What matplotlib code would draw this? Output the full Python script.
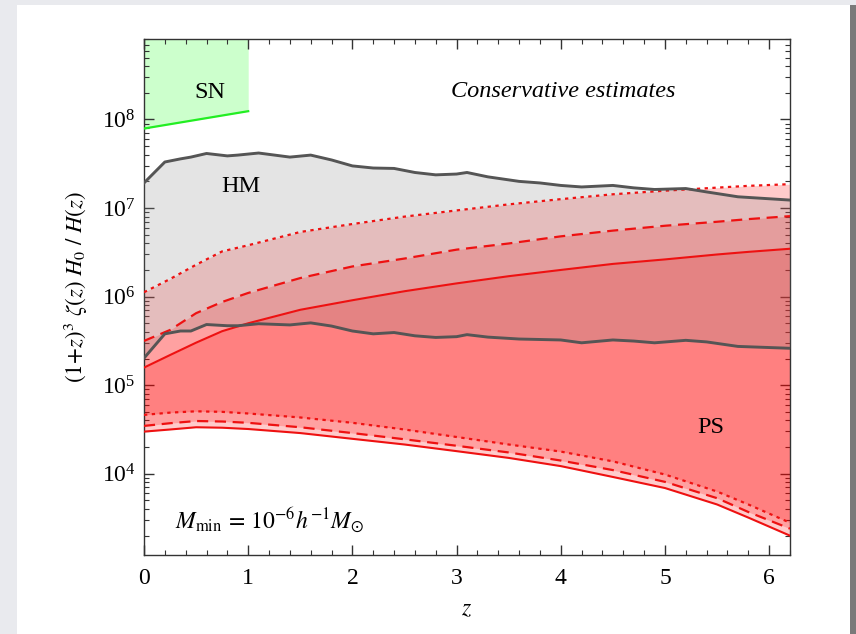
import numpy as np
import matplotlib
matplotlib.use("Agg")
import matplotlib.pyplot as plt
from matplotlib.patches import Rectangle
from matplotlib.ticker import LogLocator, MultipleLocator, NullFormatter

plt.rcParams['font.family'] = ['Liberation Serif', 'DejaVu Serif']
plt.rcParams['mathtext.fontset'] = 'stix'

# ---------------- data ----------------
# SN (supernova) bound
sn_z = [0.0, 1.0]
sn_low = [7.9e7, 1.24e8]

# HM (halo model) band
hm_z = [0, 0.2, 0.35, 0.45, 0.6, 0.8, 0.9, 1.1, 1.4, 1.6, 1.8, 2.0, 2.2, 2.4, 2.6,
        2.8, 3.0, 3.1, 3.3, 3.6, 3.8, 4.0, 4.2, 4.5, 4.7, 4.9, 5.2, 5.4, 5.7, 6.2]
hm_upper = [1.92e7, 3.31e7, 3.59e7, 3.76e7, 4.13e7, 3.88e7, 3.96e7, 4.18e7, 3.76e7,
            3.96e7, 3.49e7, 2.99e7, 2.83e7, 2.80e7, 2.52e7, 2.37e7, 2.42e7, 2.52e7,
            2.25e7, 2.0e7, 1.92e7, 1.80e7, 1.73e7, 1.80e7, 1.69e7, 1.62e7, 1.66e7,
            1.52e7, 1.34e7, 1.23e7]
hm_lower = [2.02e5, 3.80e5, 4.09e5, 4.09e5, 4.84e5, 4.69e5, 4.69e5, 4.94e5, 4.79e5,
            5.05e5, 4.65e5, 4.09e5, 3.80e5, 3.93e5, 3.61e5, 3.46e5, 3.53e5, 3.72e5,
            3.49e5, 3.32e5, 3.28e5, 3.24e5, 3.01e5, 3.24e5, 3.15e5, 3.01e5, 3.21e5,
            3.08e5, 2.74e5, 2.61e5]

# PS (Press-Schechter) bands: solid, dashed, dotted
ps_z = [0, 0.25, 0.5, 0.75, 1.0, 1.5, 2.0, 2.5, 3.0, 3.5, 4.0, 4.5, 5.0, 5.5, 5.8, 6.2]
ps_solid_up = [1.58e5, 2.19e5, 3.02e5, 4.07e5, 5.0e5, 7.1e5, 9.1e5, 1.15e6, 1.41e6,
               1.70e6, 2.0e6, 2.34e6, 2.63e6, 2.99e6, 3.2e6, 3.47e6]
ps_dashed_up = [3.16e5, 4.2e5, 6.5e5, 8.7e5, 1.1e6, 1.62e6, 2.19e6, 2.69e6, 3.39e6,
                3.98e6, 4.79e6, 5.56e6, 6.31e6, 7.0e6, 7.5e6, 8.1e6]
ps_dotted_up = [1.12e6, 1.58e6, 2.29e6, 3.24e6, 3.8e6, 5.37e6, 6.6e6, 8.0e6, 9.4e6,
                1.10e7, 1.26e7, 1.43e7, 1.57e7, 1.70e7, 1.78e7, 1.86e7]
ps_solid_low = [2.99e4, 3.16e4, 3.35e4, 3.31e4, 3.2e4, 2.88e4, 2.48e4, 2.14e4, 1.80e4,
                1.51e4, 1.22e4, 9.2e3, 6.9e3, 4.5e3, 3.2e3, 2.0e3]
ps_dashed_low = [3.47e4, 3.72e4, 3.94e4, 3.89e4, 3.76e4, 3.35e4, 2.88e4, 2.45e4, 2.07e4,
                 1.74e4, 1.41e4, 1.10e4, 8.1e3, 5.3e3, 3.7e3, 2.4e3]
ps_dotted_low = [4.62e4, 4.9e4, 5.07e4, 5.0e4, 4.79e4, 4.32e4, 3.76e4, 3.16e4, 2.6e4,
                 2.14e4, 1.78e4, 1.38e4, 9.8e3, 6.3e3, 4.5e3, 2.8e3]

x_ticks = [0, 1, 2, 3, 4, 5, 6]

# ---------------- figure ----------------
W, H = 856, 634
fig = plt.figure(figsize=(W / 100, H / 100), dpi=100)
fig.patch.set_facecolor('#e9eaee')
fig.patches.append(Rectangle((17 / W, 0), (850 - 17) / W, (H - 5) / H,
                             transform=fig.transFigure, facecolor='white',
                             edgecolor='none', zorder=-10))
fig.patches.append(Rectangle((850 / W, 0), 6 / W, (H - 5) / H,
                             transform=fig.transFigure, facecolor='#7a7a7a',
                             edgecolor='none', zorder=-10))

ax = fig.add_axes([144 / W, 1 - 555 / H, (790 - 144) / W, (555 - 39) / H])
ax.set_zorder(5)
ax.set_facecolor('none')
ax.set_yscale('log')
ax.set_xlim(0, 6.2)
ax.set_ylim(1.21e3, 8.1e8)

# SN
ax.fill_between(sn_z, sn_low, [1e10, 1e10], color='#ccffcc', lw=0, zorder=1)
ax.plot(sn_z, sn_low, color='#22ee22', lw=1.6, zorder=5)

# PS fills (semi-transparent red layers)
red = '#ff0000'
alpha = 0.205
for lo, up in [(ps_solid_low, ps_solid_up), (ps_dashed_low, ps_dashed_up),
               (ps_dotted_low, ps_dotted_up)]:
    ax.fill_between(ps_z, lo, up, color=red, alpha=alpha, lw=0, zorder=2)

# HM fill (translucent grey laid over the red bands)
ax.fill_between(hm_z, hm_lower, hm_upper, color='#909090', alpha=0.235, lw=0,
                zorder=3)

lc = '#ee1111'
ax.plot(ps_z, ps_solid_up, color=lc, lw=1.5, zorder=4)
ax.plot(ps_z, ps_solid_low, color=lc, lw=1.5, zorder=4)
ax.plot(ps_z, ps_dashed_up, color=lc, lw=1.6, ls=(0, (5, 3)), zorder=4)
ax.plot(ps_z, ps_dashed_low, color=lc, lw=1.6, ls=(0, (5, 3)), zorder=4)
ax.plot(ps_z, ps_dotted_up, color=lc, lw=1.6, ls=(0, (1.5, 2)), zorder=4)
ax.plot(ps_z, ps_dotted_low, color=lc, lw=1.6, ls=(0, (1.5, 2)), zorder=4)

# HM lines
ax.plot(hm_z, hm_upper, color='#555555', lw=2.1, zorder=5)
ax.plot(hm_z, hm_lower, color='#555555', lw=2.1, zorder=5)

# texts
fs_txt = 17.5
ax.text(0.63, 2.0e8, 'SN', fontsize=fs_txt, ha='center', va='center', zorder=6)
ax.text(0.93, 1.77e7, 'HM', fontsize=fs_txt, ha='center', va='center', zorder=6)
ax.text(5.44, 3.3e4, 'PS', fontsize=fs_txt, ha='center', va='center', zorder=6)
ax.text(4.02, 2.08e8, 'Conservative estimates', fontsize=fs_txt, style='italic',
        ha='center', va='center', zorder=6)
ax.text(0.3, 3.0e3, r'$M_{\rm min}\,=\,10^{-6}h^{-1}M_{\odot}$', fontsize=17,
        ha='left', va='center', zorder=6)

# axes styling
ax.set_xticks(x_ticks)
ax.xaxis.set_minor_locator(MultipleLocator(0.2))
ax.yaxis.set_major_locator(LogLocator(base=10, numticks=20))
ax.yaxis.set_minor_locator(LogLocator(base=10, subs=np.arange(2, 10), numticks=20))
ax.yaxis.set_minor_formatter(NullFormatter())
ax.tick_params(which='both', direction='in', top=True, right=True, labelsize=17,
               color='#333333')
ax.tick_params(which='major', length=7, width=1.0)
ax.tick_params(which='minor', length=3.5, width=0.8)
ax.tick_params(axis='x', pad=9)
ax.tick_params(axis='y', pad=6)
for s in ax.spines.values():
    s.set_linewidth(1.0)
    s.set_color('#333333')

ax.set_xlabel(r'$z$', fontsize=17, labelpad=8)
ax.set_ylabel(r'$(1\!+\!z)^3\ \zeta(z)\ H_0\ /\ H(z)$', fontsize=16.5, labelpad=6)
ax.yaxis.set_label_coords(-0.084, 0.52)

fig.savefig('out.png', dpi=100, facecolor=fig.get_facecolor())
